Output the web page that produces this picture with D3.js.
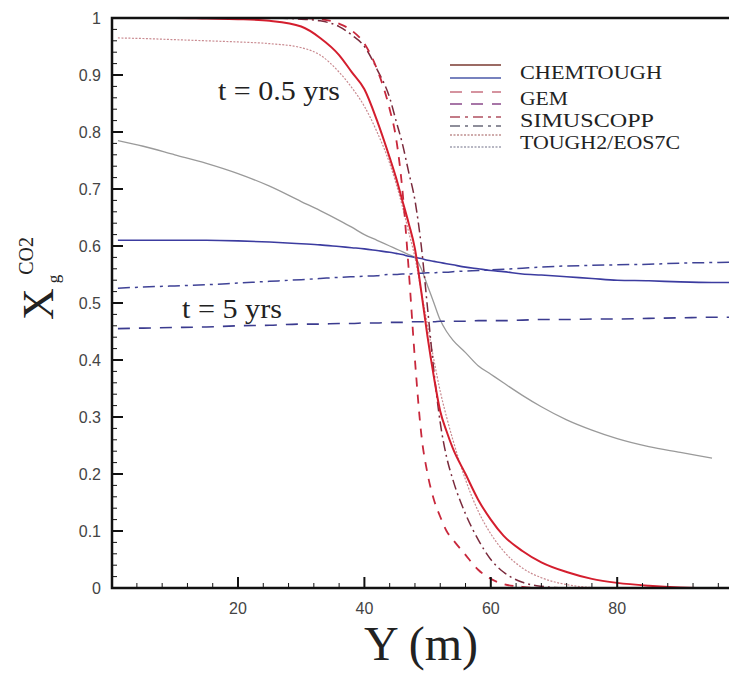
<!DOCTYPE html>
<html>
<head>
<meta charset="utf-8">
<script src="https://cdn.jsdelivr.net/npm/d3@7"></script>
<style>
  body { margin: 0; background: #fff; }
  svg { display: block; }
</style>
</head>
<body>
<svg id="chart" width="729" height="673"></svg>
<script>
// distance along column (m)
var yGrid = [1, 5, 10, 15, 20, 25, 30, 33, 36, 38, 40, 42, 44, 45, 46, 47, 48, 49, 50, 51, 52, 53, 54, 56, 58, 60, 62, 65, 68, 72, 76, 80, 85, 90, 95, 99];

// t = 0.5 yrs
var chem05 = [1, 1, 1, 0.999, 0.998, 0.995, 0.985, 0.965, 0.935, 0.905, 0.875, 0.82, 0.755, 0.72, 0.68, 0.64, 0.595, 0.52, 0.44, 0.37, 0.31, 0.275, 0.245, 0.2, 0.155, 0.12, 0.092, 0.065, 0.045, 0.028, 0.016, 0.009, 0.004, 0.001, 0, 0];
var gem05 = [1, 1, 1, 1, 1, 1, 1, 0.998, 0.99, 0.978, 0.955, 0.91, 0.84, 0.79, 0.7, 0.56, 0.4, 0.27, 0.2, 0.155, 0.125, 0.1, 0.085, 0.058, 0.032, 0.016, 0.007, 0.002, 0, 0, 0, 0, 0, 0, 0, 0];
var simu05 = [1, 1, 1, 1, 1, 1, 0.998, 0.995, 0.985, 0.97, 0.95, 0.91, 0.86, 0.82, 0.78, 0.73, 0.68, 0.6, 0.49, 0.38, 0.29, 0.23, 0.19, 0.13, 0.085, 0.05, 0.028, 0.01, 0.003, 0, 0, 0, 0, 0, 0, 0];
var tough05 = [0.965, 0.964, 0.962, 0.96, 0.958, 0.955, 0.948, 0.935, 0.905, 0.878, 0.845, 0.8, 0.745, 0.71, 0.67, 0.625, 0.58, 0.52, 0.46, 0.4, 0.345, 0.3, 0.26, 0.19, 0.135, 0.095, 0.065, 0.035, 0.018, 0.006, 0.001, 0, 0, 0, 0, 0];

// t = 5 yrs
var chem5 = [0.61, 0.61, 0.61, 0.61, 0.609, 0.607, 0.604, 0.602, 0.599, 0.597, 0.595, 0.592, 0.589, 0.587, 0.585, 0.582, 0.58, 0.578, 0.575, 0.573, 0.571, 0.569, 0.567, 0.563, 0.56, 0.557, 0.555, 0.551, 0.549, 0.546, 0.543, 0.54, 0.539, 0.537, 0.536, 0.536];
var gem5 = [0.455, 0.456, 0.457, 0.458, 0.46, 0.461, 0.463, 0.463, 0.464, 0.464, 0.465, 0.465, 0.466, 0.466, 0.466, 0.467, 0.467, 0.467, 0.467, 0.467, 0.468, 0.468, 0.468, 0.468, 0.469, 0.469, 0.469, 0.47, 0.471, 0.471, 0.472, 0.472, 0.473, 0.474, 0.475, 0.475];
var simu5 = [0.526, 0.528, 0.53, 0.532, 0.535, 0.538, 0.541, 0.543, 0.545, 0.546, 0.547, 0.548, 0.55, 0.55, 0.551, 0.551, 0.552, 0.552, 0.553, 0.553, 0.554, 0.554, 0.555, 0.556, 0.557, 0.558, 0.559, 0.561, 0.563, 0.565, 0.566, 0.567, 0.568, 0.57, 0.571, 0.572];
var tough5 = [0.785, 0.775, 0.76, 0.745, 0.727, 0.705, 0.678, 0.662, 0.645, 0.633, 0.62, 0.61, 0.6, 0.595, 0.59, 0.585, 0.58, 0.56, 0.53, 0.5, 0.47, 0.45, 0.435, 0.413, 0.39, 0.375, 0.36, 0.338, 0.318, 0.295, 0.277, 0.262, 0.248, 0.238, 0.228, null];

var xTicks = [20, 40, 60, 80];
var yTicks = [0, 0.1, 0.2, 0.3, 0.4, 0.5, 0.6, 0.7, 0.8, 0.9, 1];
var yTickLabels = ["0", "0.1", "0.2", "0.3", "0.4", "0.5", "0.6", "0.7", "0.8", "0.9", "1"];
var legendNames = ["CHEMTOUGH", "GEM", "SIMUSCOPP", "TOUGH2/EOS7C"];

function drawChart() {
	var svg = d3.select('#chart');
	var left = 112, plotTop = 18, bottom = 588;
	var serif = 'Liberation Serif, Times New Roman, serif';

	var x = d3.scaleLinear().domain([0, 100]).range([111.6, 743.6]);
	var y = d3.scaleLinear().domain([0, 1]).range([bottom, plotTop]);

	var series = [
		{ vals: tough5, color: '#9a9a9a', width: 1.3, dash: null },
		{ vals: gem5, color: '#3b3b8f', width: 1.6, dash: '12,9' },
		{ vals: simu5, color: '#3f4296', width: 1.5, dash: '12,5,3,5' },
		{ vals: chem5, color: '#3c3ca0', width: 1.6, dash: null },
		{ vals: tough05, color: '#c98a90', width: 1.2, dash: '2,1.5' },
		{ vals: simu05, color: '#7a2a3c', width: 1.5, dash: '10,4,2,4' },
		{ vals: gem05, color: '#c8283c', width: 1.8, dash: '9,8' },
		{ vals: chem05, color: '#d41e2e', width: 2, dash: null }
	];

	var line = d3.line()
		.defined(function (d) { return d[1] !== null; })
		.x(function (d) { return x(d[0]); })
		.y(function (d) { return y(d[1]); })
		.curve(d3.curveMonotoneX);

	var plot = svg.append('g');
	series.forEach(function (s) {
		plot.append('path')
			.datum(yGrid.map(function (v, i) { return [v, s.vals[i]]; }))
			.attr('d', line)
			.attr('fill', 'none')
			.attr('stroke', s.color)
			.attr('stroke-width', s.width)
			.attr('stroke-dasharray', s.dash);
	});

	// minor ticks
	var xMinor = d3.range(4, 100, 4).filter(function (d) { return d % 20 !== 0; });
	var yMinor = d3.range(0.02, 1, 0.02).filter(function (d) { return Math.abs(d * 10 - Math.round(d * 10)) > 0.01; });

	var axisG = svg.append('g').attr('stroke', '#111');
	axisG.selectAll('.xmin').data(xMinor).enter().append('line')
		.attr('x1', function (d) { return x(d); }).attr('x2', function (d) { return x(d); })
		.attr('y1', bottom).attr('y2', bottom - 5).attr('stroke-width', 1);
	axisG.selectAll('.xmaj').data(xTicks).enter().append('line')
		.attr('x1', function (d) { return x(d); }).attr('x2', function (d) { return x(d); })
		.attr('y1', bottom).attr('y2', bottom - 11).attr('stroke-width', 2);
	axisG.selectAll('.ymin').data(yMinor).enter().append('line')
		.attr('y1', function (d) { return y(d); }).attr('y2', function (d) { return y(d); })
		.attr('x1', left).attr('x2', left + 5).attr('stroke-width', 1);
	axisG.selectAll('.ymaj').data(yTicks).enter().append('line')
		.attr('y1', function (d) { return y(d); }).attr('y2', function (d) { return y(d); })
		.attr('x1', left).attr('x2', left + 11).attr('stroke-width', 2);

	// frame
	svg.append('path')
		.attr('d', 'M729,' + plotTop + 'H' + left + 'V' + bottom + 'H729')
		.attr('fill', 'none').attr('stroke', '#111').attr('stroke-width', 2.5);

	svg.selectAll('.xlab').data(xTicks).enter().append('text')
		.attr('x', function (d) { return x(d); })
		.attr('y', bottom + 26)
		.attr('text-anchor', 'middle')
		.attr('font-family', 'Liberation Sans, Arial, sans-serif')
		.attr('font-size', 16).attr('fill', '#444')
		.text(function (d) { return d; });

	svg.selectAll('.ylab').data(yTicks).enter().append('text')
		.attr('x', 101)
		.attr('y', function (d) { return y(d) + 6; })
		.attr('text-anchor', 'end')
		.attr('font-family', 'Liberation Sans, Arial, sans-serif')
		.attr('font-size', 16).attr('fill', '#444')
		.text(function (d, i) { return yTickLabels[i]; });

	// axis titles
	svg.append('text')
		.attr('x', 421).attr('y', 660)
		.attr('text-anchor', 'middle')
		.attr('font-family', serif)
		.attr('font-size', 48).attr('fill', '#222')
		.text('Y (m)');

	var yt = svg.append('text')
		.attr('transform', 'translate(53,320) rotate(-90)')
		.attr('font-family', serif)
		.attr('fill', '#222');
	yt.append('tspan').attr('font-size', 44).text('X');
	yt.append('tspan').attr('font-size', 17).attr('dx', 5).attr('dy', 6).text('g');
	yt.append('tspan').attr('font-size', 20).attr('dy', -26).text('CO2');

	// annotations
	svg.append('text')
		.attr('x', 218).attr('y', 100)
		.attr('font-family', serif)
		.attr('font-size', 27).attr('fill', '#222')
		.attr('textLength', 122).attr('lengthAdjust', 'spacingAndGlyphs')
		.text('t = 0.5 yrs');
	svg.append('text')
		.attr('x', 182).attr('y', 318)
		.attr('font-family', serif)
		.attr('font-size', 27).attr('fill', '#222')
		.attr('textLength', 100).attr('lengthAdjust', 'spacingAndGlyphs')
		.text('t = 5 yrs');

	// legend
	var legendLines = [
		{ y: 65, color: '#7a3a30', dash: null },
		{ y: 78, color: '#4a58a8', dash: null },
		{ y: 92, color: '#c87080', dash: '12,9' },
		{ y: 104, color: '#8a4a8a', dash: '12,9' },
		{ y: 117, color: '#b05060', dash: '10,5,3,5' },
		{ y: 126, color: '#6a6a7a', dash: '10,5,3,5' },
		{ y: 135, color: '#c09090', dash: '2,1.5' },
		{ y: 147, color: '#a0a0b0', dash: '2,1.5' }
	];
	var legendBase = [79, 105, 127, 149];
	var legendWidth = [142, 48, 134, 160];

	var lg = svg.append('g');
	lg.selectAll('line').data(legendLines).enter().append('line')
		.attr('x1', 450).attr('x2', 501)
		.attr('y1', function (d) { return d.y; }).attr('y2', function (d) { return d.y; })
		.attr('stroke', function (d) { return d.color; })
		.attr('stroke-width', 1.6)
		.attr('stroke-dasharray', function (d) { return d.dash; });
	lg.selectAll('text').data(legendNames).enter().append('text')
		.attr('x', 520)
		.attr('y', function (d, i) { return legendBase[i]; })
		.attr('textLength', function (d, i) { return legendWidth[i]; })
		.attr('lengthAdjust', 'spacingAndGlyphs')
		.attr('font-family', serif)
		.attr('font-size', 19).attr('fill', '#222')
		.text(function (d) { return d; });
}

drawChart();
</script>
</body>
</html>
